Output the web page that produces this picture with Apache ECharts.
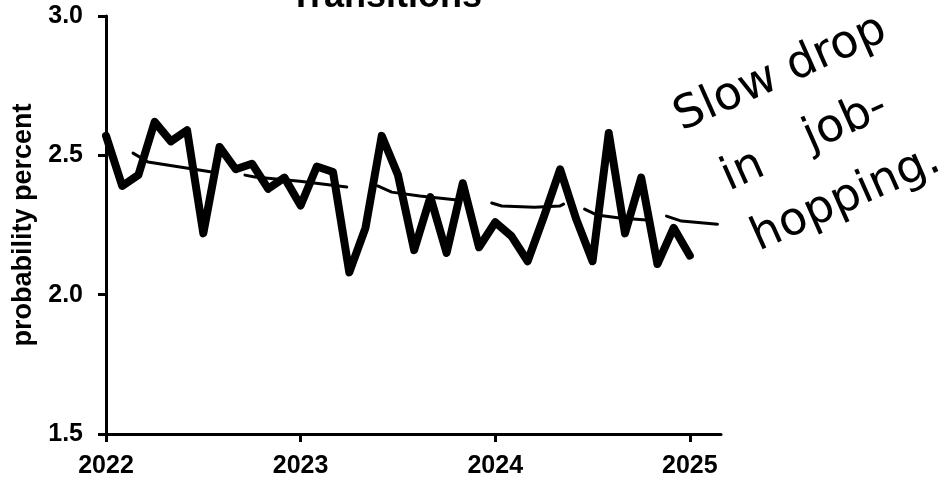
<!DOCTYPE html>
<html>
<head>
<meta charset="utf-8">
<script src="https://cdn.jsdelivr.net/npm/echarts@6/dist/echarts.min.js"></script>
<style>html,body{margin:0;padding:0;background:#fff;}#c{width:942px;height:485px;}</style>
</head>
<body>
<div id="c"></div>
<script>
// Monthly job-to-job transition probability (percent)
var months = ['2022-01','2022-02','2022-03','2022-04','2022-05','2022-06','2022-07','2022-08','2022-09','2022-10','2022-11','2022-12',
              '2023-01','2023-02','2023-03','2023-04','2023-05','2023-06','2023-07','2023-08','2023-09','2023-10','2023-11','2023-12',
              '2024-01','2024-02','2024-03','2024-04','2024-05','2024-06','2024-07','2024-08','2024-09','2024-10','2024-11','2024-12',
              '2025-01'];
var probability = [2.57,2.39,2.43,2.62,2.55,2.59,2.22,2.53,2.45,2.47,2.38,2.42,
                   2.32,2.46,2.44,2.08,2.24,2.57,2.43,2.16,2.35,2.15,2.40,2.17,
                   2.26,2.21,2.12,2.28,2.45,2.27,2.12,2.58,2.22,2.42,2.11,2.24,
                   2.14];
// Hand-drawn trend strokes (decimal year, value); null separates strokes
var trendYears  = [2022.139,2022.216,2022.380,2022.544,null,
                   2022.714,2022.765,2022.996,2023.237,null,
                   2023.396,2023.468,2023.612,2023.817,null,
                   2023.982,2024.033,2024.202,2024.331,2024.351,null,
                   2024.459,2024.521,2024.639,2024.777,null,
                   2024.880,2024.957,2025.142];
var trendValues = [2.508,2.476,2.458,2.440,null,
                   2.429,2.422,2.407,2.386,null,
                   2.390,2.368,2.354,2.339,null,
                   2.329,2.318,2.314,2.318,2.325,null,
                   2.307,2.286,2.275,2.268,null,
                   2.282,2.264,2.253];
var yearTicks = [2022, 2023, 2024, 2025];
var titleText = 'Transitions';
var yAxisName = 'probability percent';
var noteLines = ['Slow drop', 'in', 'job-', 'hopping.'];

function toYear(m) {
  var p = m.split('-');
  return +p[0] + (+p[1] - 1) / 12;
}
var lineData = months.map(function (m, i) { return [toYear(m), probability[i]]; });
var trendData = trendYears.map(function (y, i) {
  return y === null ? [null, null] : [y, trendValues[i]];
});

var chart = echarts.init(document.getElementById('c'), null, {renderer: 'canvas'});
var FONT = '"Liberation Sans", Arial, Helvetica, sans-serif';
var HAND = '"DejaVu Sans", sans-serif';
var rot = 24 * Math.PI / 180;
var option = {
  backgroundColor: '#ffffff',
  animation: false,
  title: {
    text: titleText,
    left: 285,
    top: -26,
    textStyle: {fontFamily: FONT, fontWeight: 'bold', fontSize: 36, color: '#000'}
  },
  grid: {left: 106, right: 221, top: 16, bottom: 51, containLabel: false},
  xAxis: {
    type: 'value',
    min: 2022,
    max: 2025.16,
    splitLine: {show: false},
    axisLine: {show: true, onZero: false, lineStyle: {color: '#000', width: 3}},
    axisTick: {show: true, length: 8, customValues: yearTicks, lineStyle: {color: '#000', width: 3}},
    axisLabel: {
      customValues: yearTicks,
      margin: 20,
      color: '#000', fontFamily: FONT, fontWeight: 'bold', fontSize: 25,
      formatter: function (v) { return String(Math.round(v)); }
    }
  },
  yAxis: {
    type: 'value',
    min: 1.5,
    max: 3.0,
    interval: 0.5,
    name: yAxisName,
    nameLocation: 'middle',
    nameGap: 66,
    nameTextStyle: {fontFamily: FONT, fontWeight: 'bold', fontSize: 27, color: '#000'},
    splitLine: {show: false},
    axisLine: {show: true, lineStyle: {color: '#000', width: 3}},
    axisTick: {show: true, length: 8, lineStyle: {color: '#000', width: 3}},
    axisLabel: {
      margin: 23,
      color: '#000', fontFamily: FONT, fontWeight: 'bold', fontSize: 25,
      formatter: function (v) { return v.toFixed(1); }
    }
  },
  series: [
    {
      type: 'line',
      data: trendData,
      showSymbol: false,
      connectNulls: false,
      z: 3,
      lineStyle: {color: '#000', width: 3, cap: 'round', join: 'round'}
    },
    {
      type: 'line',
      data: lineData,
      showSymbol: false,
      z: 4,
      lineStyle: {color: '#000', width: 8, cap: 'round', join: 'round'}
    }
  ],
  graphic: [
    {type: 'text', x: 677, y: 120, rotation: rot,
     style: {text: noteLines[0], font: 'normal 46px ' + HAND, fill: '#000', verticalAlign: 'middle', align: 'left'}},
    {type: 'text', x: 724, y: 180, rotation: rot,
     style: {text: noteLines[1], font: 'normal 46px ' + HAND, fill: '#000', verticalAlign: 'middle', align: 'left'}},
    {type: 'text', x: 806, y: 140, rotation: rot,
     style: {text: noteLines[2], font: 'normal 46px ' + HAND, fill: '#000', verticalAlign: 'middle', align: 'left'}},
    {type: 'text', x: 754, y: 240, rotation: rot,
     style: {text: noteLines[3], font: 'normal 46px ' + HAND, fill: '#000', verticalAlign: 'middle', align: 'left'}}
  ]
};
chart.setOption(option);
</script>
</body>
</html>
